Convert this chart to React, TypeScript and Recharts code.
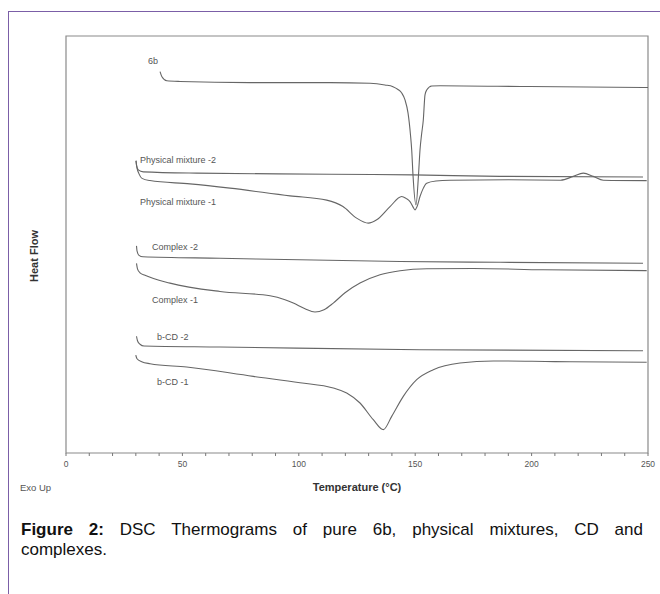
import React from "react";
import { LineChart, Line, XAxis, YAxis, ReferenceArea, ReferenceDot } from "recharts";

// DSC traces: [temperature °C, heat flow (arbitrary, exo up)]
const trace6b: number[][] = [
  [40.4, 91.96], [41.2, 90.8], [43.3, 89.9], [49.0, 89.75], [79.0, 89.5], [113.4, 89.5],
  [130.6, 89.35], [137.0, 88.96], [140.46, 88.58], [142.61, 87.95], [144.2, 87.16],
  [145.62, 85.59], [146.91, 82.66], [147.98, 77.7], [148.5, 74.32], [149.05, 68.69],
  [150.34, 61.94], [151.42, 68.69], [152.06, 74.32], [152.71, 77.7], [153.48, 81.08],
  [154.21, 86.71], [154.94, 87.84], [157.09, 88.74], [160.7, 88.8], [199.3, 88.6], [250, 88.4],
];
const tracePM2: number[][] = [
  [30.07, 71.91], [30.33, 70.72], [31.06, 69.82], [33.2, 69.37], [56.14, 69.08],
  [113.4, 68.85], [149.05, 68.69], [186.43, 68.36], [247.85, 68.2],
];
const tracePM1: number[][] = [
  [30.07, 71.85], [30.5, 70.27], [31.36, 68.92], [32.65, 67.91], [36.08, 67.41], [53.26, 66.67],
  [70.45, 65.7], [96.22, 63.96], [111.98, 63.0], [118.98, 61.55], [124.87, 58.94],
  [129.85, 57.82], [133.46, 58.56], [139.18, 61.55], [144.2, 63.81], [146.05, 63.4],
  [147.77, 62.68], [149.05, 61.49], [149.91, 60.81], [150.77, 61.49], [152.06, 63.81],
  [153.35, 65.54], [154.94, 66.82], [158.93, 67.3], [165.0, 67.48], [190.0, 67.6],
  [212.5, 67.5], [217.91, 68.36], [222.21, 69.08], [226.5, 68.36], [230.8, 67.5], [249.44, 67.4],
];
const traceCx2: number[][] = [
  [30.28, 52.7], [30.5, 51.58], [31.36, 50.56], [33.08, 50.23], [66.15, 49.89],
  [143.47, 49.17], [186.43, 48.99], [247.85, 48.76],
];
const traceCx1: number[][] = [
  [30.28, 48.76], [30.71, 47.52], [31.79, 46.62], [33.93, 46.06], [44.67, 44.3], [66.15, 42.41],
  [87.63, 41.44], [94.07, 40.54], [97.64, 39.8], [102.66, 38.51], [106.96, 37.77],
  [110.82, 38.29], [114.82, 39.8], [119.85, 42.12], [126.29, 44.3], [134.88, 46.17],
  [143.5, 47.1], [155.0, 47.55], [175.0, 47.6], [205.0, 47.3], [249.44, 47.1],
];
const traceCD2: number[][] = [
  [30.28, 32.32], [30.71, 31.31], [31.79, 30.52], [33.51, 30.11], [66.15, 29.89],
  [152.06, 29.28], [247.85, 29.05],
];
const traceCD1: number[][] = [
  [29.98, 28.04], [30.5, 27.25], [32.52, 26.58], [36.08, 26.13], [51.85, 25.38], [80.46, 23.27],
  [100.52, 21.85], [114.82, 20.65], [120.57, 19.53], [126.29, 17.27], [132.0, 13.51],
  [136.3, 11.26], [139.91, 14.26], [144.89, 18.76], [150.64, 22.52], [157.78, 24.77],
  [169.24, 26.28], [183.55, 26.75], [210.0, 26.6], [249.44, 26.45],
];

const traces = [trace6b, tracePM2, tracePM1, traceCx2, traceCx1, traceCD2, traceCD1];

// curve names placed next to each trace [temperature, heat flow, text]
const curveLabels: [number, number, string][] = [
  [35.2, 94.4, "6b"],
  [31.8, 72.1, "Physical mixture -2"],
  [31.8, 62.6, "Physical mixture -1"],
  [36.9, 52.5, "Complex -2"],
  [36.9, 40.5, "Complex -1"],
  [39.1, 32.2, "b-CD -2"],
  [39.1, 22.1, "b-CD -1"],
];

const xTicks = Array.from({ length: 26 }, (_, i) => i * 10);
const yDomain = [6, 100];

const toRows = (pts: number[][]) => pts.map(([t, v]) => ({ t, v }));

const font = "Liberation Sans, Arial, sans-serif";

function TempTick({ x, y, payload }: { x?: number; y?: number; payload?: { value: number } }) {
  if (!payload || payload.value % 50 !== 0) return null;
  return (
    <text x={x} y={y} dy="0.71em" textAnchor="middle" fontSize={8.5} fill="#555" fontFamily={font}>
      {payload.value}
    </text>
  );
}

export default function App() {
  return (
    <div style={{ position: "absolute", left: 0, top: 0, width: 660, height: 594, background: "#fff", fontFamily: font }}>
      <div style={{ position: "absolute", left: 8, top: 11, right: 0, borderTop: "1.5px solid #7b5ea7" }} />
      <div style={{ position: "absolute", left: 8, top: 11, bottom: 0, borderLeft: "1.5px solid #7b5ea7" }} />
      <LineChart width={660} height={594} margin={{ top: 36, right: 12, bottom: 121, left: 66 }}>
        <XAxis dataKey="t" type="number" domain={[0, 250]} ticks={xTicks} interval={0}
          allowDataOverflow height={20} axisLine={false} tickSize={3} tickMargin={5}
          tickLine={{ stroke: "#777" }} tick={<TempTick />} />
        <YAxis type="number" domain={yDomain} allowDataOverflow hide width={0} />
        <ReferenceArea x1={0} x2={250} y1={yDomain[0]} y2={yDomain[1]} fill="none" fillOpacity={0}
          stroke="#8a8a8a" strokeWidth={1.2} ifOverflow="visible" />
        {traces.map((pts, i) => (
          <Line key={i} data={toRows(pts)} dataKey="v" type="monotone" stroke="#666"
            strokeWidth={1.1} dot={false} activeDot={false} isAnimationActive={false} />
        ))}
        {curveLabels.map(([t, v, text]) => (
          <ReferenceDot key={text} x={t} y={v} r={0}
            shape={(p: { cx?: number; cy?: number }) => (
              <text x={p.cx} y={p.cy} dy="0.35em" fontSize={9} fill="#555" fontFamily={font}>
                {text}
              </text>
            )} />
        ))}
      </LineChart>
      <div style={{ position: "absolute", left: 34, top: 256, transform: "translate(-50%,-50%) rotate(-90deg)",
        fontSize: 11, fontWeight: "bold", color: "#333", whiteSpace: "nowrap" }}>Heat Flow</div>
      <div style={{ position: "absolute", left: 20, top: 487, transform: "translateY(-50%)", fontSize: 9.5, color: "#555" }}>Exo Up</div>
      <div style={{ position: "absolute", left: 357, top: 487, transform: "translate(-50%,-50%)",
        fontSize: 11, fontWeight: "bold", color: "#333", whiteSpace: "nowrap" }}>Temperature (°C)</div>
      <div style={{ position: "absolute", left: 21, width: 622, top: 520, fontSize: 17, lineHeight: "20px",
        color: "#111", textAlign: "justify", textAlignLast: "justify" }}>
        <b>Figure 2:</b> DSC Thermograms of pure 6b, physical mixtures, CD and
      </div>
      <div style={{ position: "absolute", left: 21, top: 540, fontSize: 17, lineHeight: "20px", color: "#111" }}>
        complexes.
      </div>
    </div>
  );
}
